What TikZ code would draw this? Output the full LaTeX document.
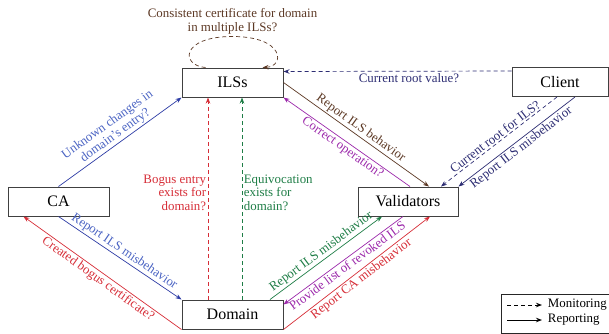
\documentclass[tikz,border=0pt]{standalone}
\usepackage{fontspec}
\setmainfont{Liberation Serif}
\usetikzlibrary{arrows.meta,positioning}

\definecolor{ilsbrown}{RGB}{92,56,36}
\definecolor{rootnavy}{RGB}{45,45,115}
\definecolor{cablue}{RGB}{45,60,165}
\definecolor{calabel}{RGB}{75,100,195}
\definecolor{bogred}{RGB}{214,45,55}
\definecolor{eqgreen}{RGB}{30,125,70}
\definecolor{opviolet}{RGB}{155,40,170}

\tikzset{
    party/.style={draw=black!75, line width=1pt, minimum height=29pt, inner sep=0pt,
        font=\fontsize{16}{18}\selectfont},
    lbl/.style={font=\fontsize{12.9}{13.5}\selectfont, inner sep=1.5pt},
    conn/.style={-{Stealth[length=6pt,width=4.5pt]}, line width=0.7pt},
    mon/.style={conn, dash pattern=on 4pt off 3pt},
}

\begin{document}
\begin{tikzpicture}[x=1pt,y=-1pt]
    % Fix the page size
    \useasboundingbox (0,0) rectangle (609,333);

    % Define the parties
    \node[party, minimum width=101pt] (ils) at (232.5,82.5) {ILSs};
    \node[party, minimum width=96pt] (cli) at (560,82) {Client};
    \node[party, minimum width=101pt] (ca) at (58.5,201.5) {CA};
    \node[party, minimum width=100pt] (val) at (408,201.5) {Validators};
    \node[party, minimum width=101pt] (dom) at (232.5,314.5) {Domain};

    % Draw the loop over ILSs
    \draw[mon, ilsbrown] ([xshift=-27pt]ils.north) .. controls +(-25,-2) and +(-52,0) .. ([yshift=31pt]ils.north)
        .. controls +(52.5,0) and +(22.5,-1) .. ([xshift=30pt]ils.north);
    \node[lbl, ilsbrown, align=center] (cons) at (232.5,21.5) {Consistent certificate for domain\\in multiple ILSs?};

    % Links of the client
    \draw[mon, rootnavy] ([yshift=-4pt]cli.north west) -- node[lbl, below, pos=0.45] {Current root value?} ([yshift=-4pt]ils.north east);
    \draw[mon, rootnavy] ([xshift=-3pt]cli.south) -- node[lbl, above, sloped] {Current root for ILS?} ([xshift=33pt]val.north);
    \draw[conn, rootnavy] ([xshift=15pt]cli.south) -- node[lbl, below, sloped] {Report ILS misbehavior} (val.north east);

    % Links between ILSs and validators
    \draw[conn, ilsbrown] (ils.east) -- node[lbl, above, sloped] {Report ILS behavior} ([xshift=21pt]val.north);
    \draw[conn, opviolet] ([xshift=2pt]val.north) -- node[lbl, below, sloped] {Correct operation?} (ils.south east);

    % Links of the CA
    \draw[conn, cablue] (ca.north) -- node[lbl, above, sloped, align=center, text=calabel] {Unknown changes in\\domain's entry?} (ils.south west);
    \draw[conn, cablue] (ca.south) -- node[lbl, above, sloped, text=calabel] {Report ILS misbehavior} (dom.north west);

    % Links of the domain
    \draw[mon, bogred] ([xshift=-24.5pt]dom.north) -- node[lbl, left, align=right, pos=0.53] {Bogus entry\\exists for\\domain?} ([xshift=-24.5pt]ils.south);
    \draw[mon, eqgreen] ([xshift=9.5pt]dom.north) -- node[lbl, right, align=left, pos=0.53] {Equivocation\\exists for\\domain?} ([xshift=9.5pt]ils.south);
    \draw[conn, bogred] (dom.south west) -- node[lbl, below, sloped] {Created bogus certificate?} ([xshift=-35pt]ca.south);
    \draw[conn, eqgreen] ([xshift=37.5pt]dom.north) -- node[lbl, above, sloped] {Report ILS misbehavior} ([xshift=-26pt]val.south);
    \draw[conn, opviolet] ([xshift=-5pt]val.south) -- node[lbl, below, sloped] {Provide list of revoked ILS} ([yshift=-5pt]dom.north east);
    \draw[conn, bogred] (dom.south east) -- node[lbl, below, sloped] {Report CA misbehavior} ([xshift=22pt]val.south);

    % Draw the key
    \node[party, draw=black!85, minimum width=108pt, minimum height=39pt] (key) at (555,313.5) {};
    \coordinate (mona) at (507,305);
    \coordinate (monb) at (542,305);
    \coordinate (repa) at (507,320);
    \coordinate (repb) at (542,320);
    \draw[mon, black, line width=0.9pt] (mona) -- (monb) node[lbl, right=5.5pt, inner sep=0pt] (monl) {Monitoring};
    \draw[conn, black, line width=0.9pt] (repa) -- (repb) node[lbl, right=5.5pt, inner sep=0pt] (repl) {Reporting};
\end{tikzpicture}
\end{document}
